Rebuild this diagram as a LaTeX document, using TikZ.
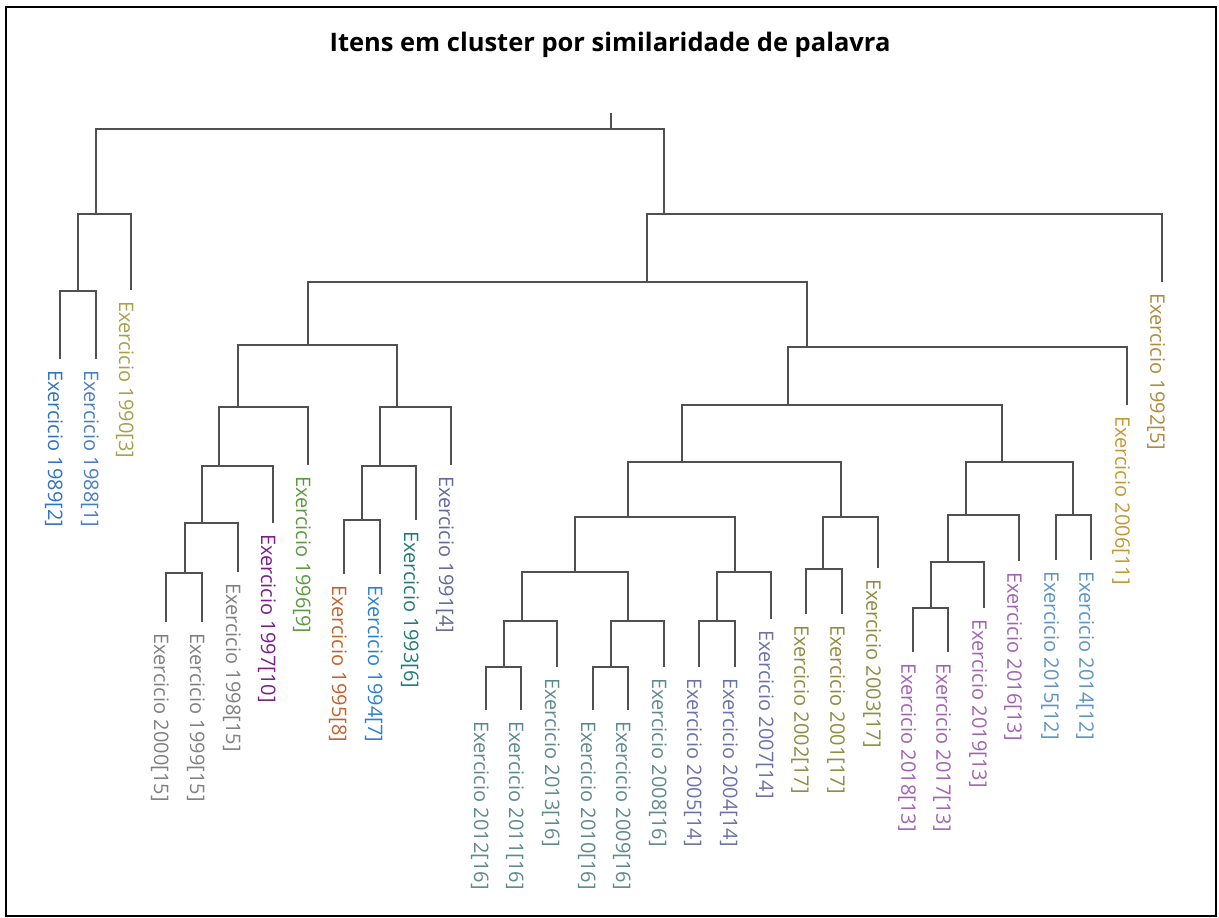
\documentclass[tikz,border=0pt]{standalone}
\usepackage{fontspec}
\setmainfont{Open Sans}
\usepackage{xcolor}
\definecolor{linegray}{RGB}{80,80,80}
\definecolor{k1}{HTML}{4A7EC2}
\definecolor{k2}{HTML}{2E74C0}
\definecolor{k3}{HTML}{A8A050}
\definecolor{k4}{HTML}{66689A}
\definecolor{k5}{HTML}{B08A3E}
\definecolor{k6}{HTML}{1F7B78}
\definecolor{k7}{HTML}{2C80D0}
\definecolor{k8}{HTML}{C2622C}
\definecolor{k9}{HTML}{5C9A40}
\definecolor{k10}{HTML}{7A1E8C}
\definecolor{k11}{HTML}{C4982E}
\definecolor{k12}{HTML}{5C94C4}
\definecolor{k13}{HTML}{A262B4}
\definecolor{k14}{HTML}{6C70AC}
\definecolor{k15}{HTML}{808080}
\definecolor{k16}{HTML}{5E8A8C}
\definecolor{k17}{HTML}{8E8C3E}

\begin{document}
\begin{tikzpicture}[x=1pt,y=-1pt]
	\tikzstyle{edge} = [draw=linegray,line width=2.4pt]
	\tikzstyle{leaf} = [rotate=-90,anchor=west,inner sep=0pt,font=\fontsize{20}{21}\selectfont]
	\tikzstyle{heading} = [font=\bfseries\fontsize{25.5}{28}\selectfont]
	\useasboundingbox (0,0) rectangle (1219,918);
	\draw[line width=2pt] (6,7) rectangle (1216,916);
	\node[heading] (title) at (610,45) {Itens em cluster por similaridade de palavra};
	\coordinate (n0) at (611,113);
	\coordinate (n1) at (611,129);
	\coordinate (n2) at (96,214);
	\coordinate (n3) at (78,291);
	\coordinate (n4) at (664,214);
	\coordinate (n5) at (647,282);
	\coordinate (n6) at (308,345);
	\coordinate (n7) at (238,407);
	\coordinate (n8) at (219,466);
	\coordinate (n9) at (202,523);
	\coordinate (n10) at (185,573);
	\coordinate (n11) at (397,407);
	\coordinate (n12) at (380,466);
	\coordinate (n13) at (362,520);
	\coordinate (n14) at (807,347);
	\coordinate (n15) at (788,405);
	\coordinate (n16) at (682,462);
	\coordinate (n17) at (628,517);
	\coordinate (n18) at (575,572);
	\coordinate (n19) at (522,621);
	\coordinate (n20) at (504,667);
	\coordinate (n21) at (628,621);
	\coordinate (n22) at (611,667);
	\coordinate (n23) at (735,572);
	\coordinate (n24) at (717,621);
	\coordinate (n25) at (841,517);
	\coordinate (n26) at (823,569);
	\coordinate (n27) at (1002,462);
	\coordinate (n28) at (966,515);
	\coordinate (n29) at (948,562);
	\coordinate (n30) at (931,608);
	\coordinate (n31) at (1073,515);
	\coordinate (e1989) at (60,359);
	\coordinate (e1988) at (96,359);
	\coordinate (e1990) at (131,290);
	\coordinate (e1992) at (1162,282);
	\coordinate (e2006) at (1127,405);
	\coordinate (e2000) at (166,622);
	\coordinate (e1999) at (202,622);
	\coordinate (e1998) at (238,572);
	\coordinate (e1997) at (273,523);
	\coordinate (e1996) at (308,465);
	\coordinate (e1995) at (344,574);
	\coordinate (e1994) at (380,574);
	\coordinate (e1993) at (416,520);
	\coordinate (e1991) at (451,465);
	\coordinate (e2012) at (486,710);
	\coordinate (e2011) at (521,710);
	\coordinate (e2013) at (557,667);
	\coordinate (e2010) at (593,710);
	\coordinate (e2009) at (628,710);
	\coordinate (e2008) at (664,667);
	\coordinate (e2005) at (699,667);
	\coordinate (e2004) at (735,667);
	\coordinate (e2007) at (771,619);
	\coordinate (e2002) at (806,614);
	\coordinate (e2001) at (842,614);
	\coordinate (e2003) at (878,568);
	\coordinate (e2018) at (913,652);
	\coordinate (e2017) at (948,652);
	\coordinate (e2019) at (984,608);
	\coordinate (e2016) at (1019,561);
	\coordinate (e2015) at (1056,560);
	\coordinate (e2014) at (1091,560);
	\node[leaf,text=k2] (t1989) at (54,370) {Exercicio 1989[2]};
	\node[leaf,text=k1] (t1988) at (90,370) {Exercicio 1988[1]};
	\node[leaf,text=k3] (t1990) at (125,301) {Exercicio 1990[3]};
	\node[leaf,text=k5] (t1992) at (1156,293) {Exercicio 1992[5]};
	\node[leaf,text=k11] (t2006) at (1121,416) {Exercicio 2006[11]};
	\node[leaf,text=k15] (t2000) at (160,633) {Exercicio 2000[15]};
	\node[leaf,text=k15] (t1999) at (196,633) {Exercicio 1999[15]};
	\node[leaf,text=k15] (t1998) at (232,583) {Exercicio 1998[15]};
	\node[leaf,text=k10] (t1997) at (267,534) {Exercicio 1997[10]};
	\node[leaf,text=k9] (t1996) at (302,476) {Exercicio 1996[9]};
	\node[leaf,text=k8] (t1995) at (338,585) {Exercicio 1995[8]};
	\node[leaf,text=k7] (t1994) at (374,585) {Exercicio 1994[7]};
	\node[leaf,text=k6] (t1993) at (410,531) {Exercicio 1993[6]};
	\node[leaf,text=k4] (t1991) at (445,476) {Exercicio 1991[4]};
	\node[leaf,text=k16] (t2012) at (480,721) {Exercicio 2012[16]};
	\node[leaf,text=k16] (t2011) at (515,721) {Exercicio 2011[16]};
	\node[leaf,text=k16] (t2013) at (551,678) {Exercicio 2013[16]};
	\node[leaf,text=k16] (t2010) at (587,721) {Exercicio 2010[16]};
	\node[leaf,text=k16] (t2009) at (622,721) {Exercicio 2009[16]};
	\node[leaf,text=k16] (t2008) at (658,678) {Exercicio 2008[16]};
	\node[leaf,text=k14] (t2005) at (693,678) {Exercicio 2005[14]};
	\node[leaf,text=k14] (t2004) at (729,678) {Exercicio 2004[14]};
	\node[leaf,text=k14] (t2007) at (765,630) {Exercicio 2007[14]};
	\node[leaf,text=k17] (t2002) at (800,625) {Exercicio 2002[17]};
	\node[leaf,text=k17] (t2001) at (836,625) {Exercicio 2001[17]};
	\node[leaf,text=k17] (t2003) at (872,579) {Exercicio 2003[17]};
	\node[leaf,text=k13] (t2018) at (907,663) {Exercicio 2018[13]};
	\node[leaf,text=k13] (t2017) at (942,663) {Exercicio 2017[13]};
	\node[leaf,text=k13] (t2019) at (978,619) {Exercicio 2019[13]};
	\node[leaf,text=k13] (t2016) at (1013,572) {Exercicio 2016[13]};
	\node[leaf,text=k12] (t2015) at (1050,571) {Exercicio 2015[12]};
	\node[leaf,text=k12] (t2014) at (1085,571) {Exercicio 2014[12]};
	\draw[edge] (n0)--(n1);
	\draw[edge] (n1)-|(n2);
	\draw[edge] (n1)-|(n4);
	\draw[edge] (n2)-|(n3);
	\draw[edge] (n2)-|(e1990);
	\draw[edge] (n3)-|(e1989);
	\draw[edge] (n3)-|(e1988);
	\draw[edge] (n4)-|(n5);
	\draw[edge] (n4)-|(e1992);
	\draw[edge] (n5)-|(n6);
	\draw[edge] (n5)-|(n14);
	\draw[edge] (n6)-|(n7);
	\draw[edge] (n6)-|(n11);
	\draw[edge] (n7)-|(n8);
	\draw[edge] (n7)-|(e1996);
	\draw[edge] (n8)-|(n9);
	\draw[edge] (n8)-|(e1997);
	\draw[edge] (n9)-|(n10);
	\draw[edge] (n9)-|(e1998);
	\draw[edge] (n10)-|(e2000);
	\draw[edge] (n10)-|(e1999);
	\draw[edge] (n11)-|(n12);
	\draw[edge] (n11)-|(e1991);
	\draw[edge] (n12)-|(n13);
	\draw[edge] (n12)-|(e1993);
	\draw[edge] (n13)-|(e1995);
	\draw[edge] (n13)-|(e1994);
	\draw[edge] (n14)-|(n15);
	\draw[edge] (n14)-|(e2006);
	\draw[edge] (n15)-|(n16);
	\draw[edge] (n15)-|(n27);
	\draw[edge] (n16)-|(n17);
	\draw[edge] (n16)-|(n25);
	\draw[edge] (n17)-|(n18);
	\draw[edge] (n17)-|(n23);
	\draw[edge] (n18)-|(n19);
	\draw[edge] (n18)-|(n21);
	\draw[edge] (n19)-|(n20);
	\draw[edge] (n19)-|(e2013);
	\draw[edge] (n20)-|(e2012);
	\draw[edge] (n20)-|(e2011);
	\draw[edge] (n21)-|(n22);
	\draw[edge] (n21)-|(e2008);
	\draw[edge] (n22)-|(e2010);
	\draw[edge] (n22)-|(e2009);
	\draw[edge] (n23)-|(n24);
	\draw[edge] (n23)-|(e2007);
	\draw[edge] (n24)-|(e2005);
	\draw[edge] (n24)-|(e2004);
	\draw[edge] (n25)-|(n26);
	\draw[edge] (n25)-|(e2003);
	\draw[edge] (n26)-|(e2002);
	\draw[edge] (n26)-|(e2001);
	\draw[edge] (n27)-|(n28);
	\draw[edge] (n27)-|(n31);
	\draw[edge] (n28)-|(n29);
	\draw[edge] (n28)-|(e2016);
	\draw[edge] (n29)-|(n30);
	\draw[edge] (n29)-|(e2019);
	\draw[edge] (n30)-|(e2018);
	\draw[edge] (n30)-|(e2017);
	\draw[edge] (n31)-|(e2015);
	\draw[edge] (n31)-|(e2014);
\end{tikzpicture}
\end{document}
